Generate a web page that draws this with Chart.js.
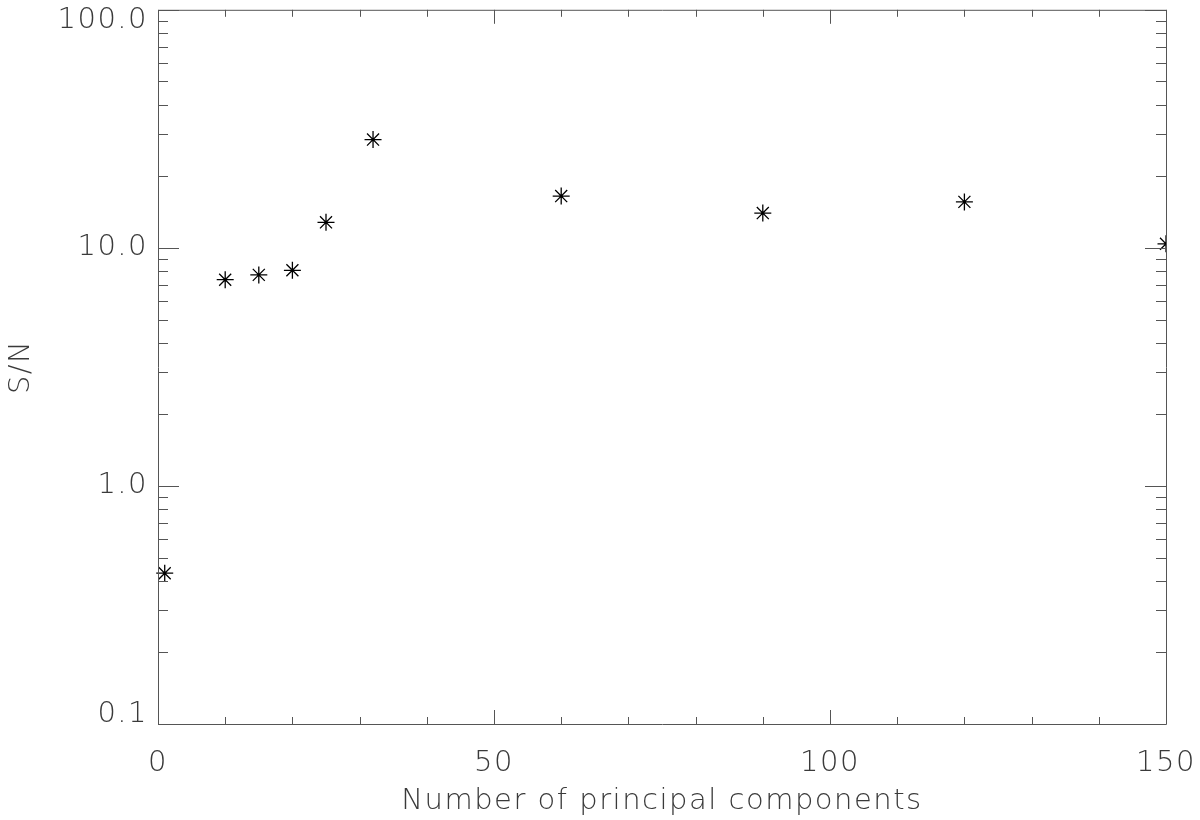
<!DOCTYPE html>
<html>
<head>
<meta charset="utf-8">
<script src="https://cdn.jsdelivr.net/npm/chart.js@4"></script>
<style>
    html, body { margin: 0; padding: 0; background: #fff; }
    #snChart { display: block; }
</style>
</head>
<body>
<canvas id="snChart" width="1200" height="820"></canvas>
<script>
// Data
const components = [1, 10, 15, 20, 25, 32, 60, 90, 120, 150];
const snRatio = [0.43, 7.35, 7.7, 8.05, 12.8, 28.5, 16.5, 14.0, 15.6, 10.4];

// Axis ticks
const xMajorTicks = [0, 50, 100, 150];
const xMinorTicks = [10, 20, 30, 40, 60, 70, 80, 90, 110, 120, 130, 140];
const yMajorTicks = [0.1, 1, 10, 100];
const yTickLabels = ['0.1', '1.0', '10.0', '100.0'];
const yMinorTicks = [0.2, 0.3, 0.4, 0.5, 0.6, 0.7, 0.8, 0.9,
                     2, 3, 4, 5, 6, 7, 8, 9,
                     20, 30, 40, 50, 60, 70, 80, 90];

const FONT_FAMILY = "'DejaVu Sans', 'Liberation Sans', sans-serif";
const TEXT_COLOR = '#3a3a3a';
const AXIS_COLOR = '#555555';

// Draws the IDL style box with inward ticks and the clamped y labels
const idlAxesPlugin = {
    id: 'idlAxes',
    beforeDraw(chart) {
        chart.ctx.letterSpacing = '1.5px';
    },
    afterDraw(chart) {
        const ctx = chart.ctx;
        const area = chart.chartArea;
        const xs = chart.scales.x;
        const ys = chart.scales.y;

        ctx.save();
        ctx.strokeStyle = AXIS_COLOR;
        ctx.lineWidth = 1;
        ctx.beginPath();
        ctx.rect(area.left + 0.5, area.top + 0.5, area.right - area.left, area.bottom - area.top);

        // x ticks on bottom and top
        const xTick = (v, len) => {
            const px = Math.round(xs.getPixelForValue(v)) + 0.5;
            ctx.moveTo(px, area.bottom);
            ctx.lineTo(px, area.bottom - len);
            ctx.moveTo(px, area.top);
            ctx.lineTo(px, area.top + len);
        };
        xMajorTicks.forEach(v => xTick(v, 14));
        xMinorTicks.forEach(v => xTick(v, 7));

        // y ticks on left and right
        const yTick = (v, len) => {
            const py = Math.round(ys.getPixelForValue(v)) + 0.5;
            ctx.moveTo(area.left, py);
            ctx.lineTo(area.left + len, py);
            ctx.moveTo(area.right, py);
            ctx.lineTo(area.right - len, py);
        };
        yMajorTicks.forEach(v => yTick(v, 21));
        yMinorTicks.forEach(v => yTick(v, 10));
        ctx.stroke();

        // y labels, kept inside the plot height at both ends
        ctx.fillStyle = TEXT_COLOR;
        ctx.font = '200 29px ' + FONT_FAMILY;
        ctx.letterSpacing = '1.5px';
        ctx.textAlign = 'right';
        ctx.textBaseline = 'middle';
        yMajorTicks.forEach((v, i) => {
            let py = ys.getPixelForValue(v);
            py = Math.min(Math.max(py, area.top + 11), area.bottom - 10);
            ctx.fillText(yTickLabels[i], area.left - 10, py);
        });
        ctx.restore();
    }
};

const ctx = document.getElementById('snChart').getContext('2d');
new Chart(ctx, {
    type: 'scatter',
    data: {
        datasets: [{
            data: components.map((c, i) => ({ x: c, y: snRatio[i] })),
            pointStyle: 'star',
            pointRadius: 8.5,
            pointHoverRadius: 8.5,
            borderColor: '#000000',
            backgroundColor: '#000000',
            borderWidth: 1.3,
            clip: { left: 10, top: 0, right: 0, bottom: 0 }
        }]
    },
    options: {
        responsive: false,
        animation: false,
        events: [],
        layout: {
            padding: { top: 8, right: 34, left: 0, bottom: 0 }
        },
        plugins: {
            legend: { display: false },
            tooltip: { enabled: false }
        },
        scales: {
            x: {
                type: 'linear',
                min: 0,
                max: 150,
                grid: { display: false, drawTicks: false },
                border: { display: false },
                afterBuildTicks: function(scale) {
                    scale.ticks = xMajorTicks.map(v => ({ value: v }));
                },
                afterFit: function(scale) {
                    scale.height = 96;
                    scale.paddingLeft = 0;
                    scale.paddingRight = 0;
                },
                ticks: {
                    color: TEXT_COLOR,
                    padding: 22,
                    maxRotation: 0,
                    font: { family: FONT_FAMILY, size: 29, weight: 200 }
                },
                title: {
                    display: true,
                    text: 'Number of principal components',
                    color: TEXT_COLOR,
                    padding: { top: 0, bottom: 1 },
                    font: { family: FONT_FAMILY, size: 29, weight: 200 }
                }
            },
            y: {
                type: 'logarithmic',
                min: 0.1,
                max: 100,
                grid: { display: false, drawTicks: false },
                border: { display: false },
                ticks: { display: false },
                afterFit: function(scale) {
                    scale.width = 158;
                    scale.paddingTop = 0;
                    scale.paddingBottom = 0;
                },
                title: {
                    display: true,
                    text: 'S/N',
                    color: TEXT_COLOR,
                    padding: { top: 4, bottom: 0 },
                    font: { family: FONT_FAMILY, size: 29, weight: 200 }
                }
            }
        }
    },
    plugins: [idlAxesPlugin]
});
</script>
</body>
</html>
